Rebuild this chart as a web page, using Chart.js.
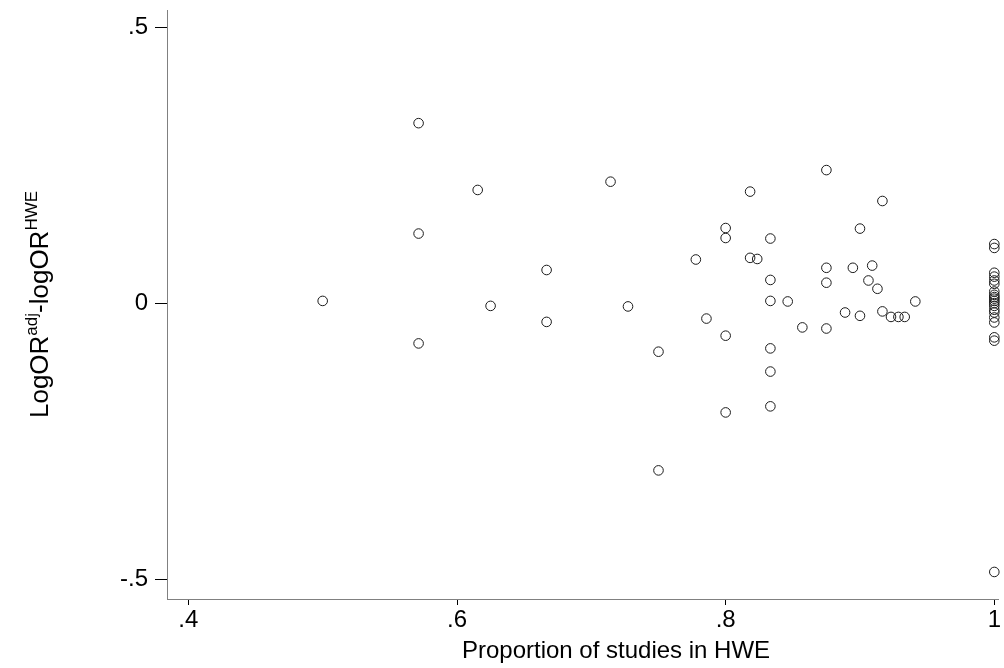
<!DOCTYPE html>
<html>
<head>
<meta charset="utf-8">
<script src="https://cdn.jsdelivr.net/npm/chart.js@4.4.1/dist/chart.umd.min.js"></script>
<style>
  html, body { margin: 0; padding: 0; background: #fff; }
  #wrap { width: 1004px; height: 668px; }
</style>
</head>
<body>
<div id="wrap"><canvas id="chart" width="1004" height="668"></canvas></div>
<script>
// proportion of studies in HWE (x) and logOR difference (y)
const propHWE = [
    0.5, 0.5714, 0.5714, 0.5714, 0.6154, 0.625, 0.6667, 0.6667, 0.7143, 0.7273,
    0.75, 0.75, 0.7778, 0.7857, 0.8, 0.8, 0.8, 0.8, 0.8182, 0.8182,
    0.8235, 0.8333, 0.8333, 0.8333, 0.8333, 0.8333, 0.8333, 0.8462, 0.8571, 0.875,
    0.875, 0.875, 0.875, 0.8889, 0.8947, 0.9, 0.9, 0.9063, 0.9091, 0.913,
    0.9167, 0.9167, 0.9231, 0.9286, 0.9333, 0.9412,
    1, 1, 1, 1, 1, 1, 1, 1, 1, 1, 1, 1, 1, 1, 1, 1, 1, 1, 1, 1
];
const logDiff = [
    0.005, 0.327, 0.127, -0.072, 0.206, -0.004, 0.061, -0.033, 0.221, -0.005,
    -0.087, -0.302, 0.080, -0.027, 0.137, 0.119, -0.058, -0.197, 0.203, 0.083,
    0.081, 0.118, 0.043, 0.005, -0.081, -0.123, -0.186, 0.004, -0.043, 0.242,
    0.065, 0.038, -0.045, -0.016, 0.065, 0.136, -0.022, 0.042, 0.069, 0.027,
    0.186, -0.014, -0.024, -0.024, -0.024, 0.004,
    0.108, 0.101, 0.056, 0.049, 0.042, 0.036, 0.022, 0.016, 0.012, 0.009,
    0.005, 0.001, -0.004, -0.011, -0.016, -0.025, -0.034, -0.061, -0.067, -0.486
];
const xTicks = [0.4, 0.6, 0.8, 1];
const yTicks = [-0.5, 0, 0.5];
const xTitle = 'Proportion of studies in HWE';

const points = propHWE.map((x, i) => ({ x: x, y: logDiff[i] }));

// Stata style labels: .5, -.5, 1
const stataLabel = v => {
    if (v === 0) return '0';
    return String(Math.round(v * 10) / 10).replace(/^(-?)0\./, '$1.');
};

const FONT = 'Liberation Sans, Arial, sans-serif';

// axis titles: y one has superscripts, x one is centred on the uncropped plot
const titlesPlugin = {
    id: 'titles',
    afterDraw(chart) {
        const ctx = chart.ctx;
        const area = chart.chartArea;
        const parts = [
            { t: 'LogOR', s: 26, dy: 0 },
            { t: 'adj', s: 17, dy: -9 },
            { t: '-logOR', s: 26, dy: 0 },
            { t: 'HWE', s: 17, dy: -9 }
        ];
        ctx.save();
        let total = 0;
        parts.forEach(p => {
            ctx.font = p.s + 'px ' + FONT;
            p.w = ctx.measureText(p.t).width;
            total += p.w;
        });
        ctx.translate(41, (area.top + area.bottom) / 2);
        ctx.rotate(-Math.PI / 2);
        ctx.fillStyle = '#000';
        ctx.textBaseline = 'middle';
        let x = -total / 2;
        parts.forEach(p => {
            ctx.font = p.s + 'px ' + FONT;
            ctx.fillText(p.t, x, p.dy);
            x += p.w;
        });
        ctx.restore();

        ctx.save();
        ctx.font = '24px ' + FONT;
        ctx.fillStyle = '#000';
        ctx.textAlign = 'center';
        ctx.textBaseline = 'middle';
        ctx.fillText(xTitle, 616, 651);
        ctx.restore();
    }
};

new Chart(document.getElementById('chart'), {
    type: 'scatter',
    data: {
        datasets: [{
            data: points,
            clip: false,
            pointStyle: 'circle',
            pointRadius: 4.8,
            pointBorderWidth: 1,
            pointBorderColor: '#1a1a1a',
            pointBackgroundColor: 'rgba(0,0,0,0)'
        }]
    },
    options: {
        responsive: false,
        animation: false,
        layout: { padding: { top: 10, right: 0, left: 0, bottom: 0 } },
        plugins: { legend: { display: false }, tooltip: { enabled: false } },
        scales: {
            x: {
                type: 'linear',
                min: 0.3841,
                max: 1.0029,
                afterBuildTicks: s => { s.ticks = xTicks.map(v => ({ value: v })); },
                afterFit: s => { s.height = 69; s.paddingLeft = 0; s.paddingRight = 0; },
                grid: { drawOnChartArea: false, drawTicks: true, tickLength: 6, color: '#000' },
                border: { display: true, color: '#808080', width: 1 },
                ticks: {
                    callback: v => stataLabel(v),
                    color: '#000',
                    font: { family: FONT, size: 24 },
                    padding: 1,
                    maxRotation: 0
                }
            },
            y: {
                type: 'linear',
                min: -0.535,
                max: 0.532,
                afterBuildTicks: s => { s.ticks = yTicks.map(v => ({ value: v })); },
                afterFit: s => { s.width = 167; s.paddingTop = 0; s.paddingBottom = 0; },
                grid: { drawOnChartArea: false, drawTicks: true, tickLength: 12, color: '#000' },
                border: { display: true, color: '#808080', width: 1 },
                ticks: {
                    callback: v => stataLabel(v),
                    color: '#000',
                    font: { family: FONT, size: 24 },
                    padding: 7
                }
            }
        }
    },
    plugins: [titlesPlugin]
});
</script>
</body>
</html>
